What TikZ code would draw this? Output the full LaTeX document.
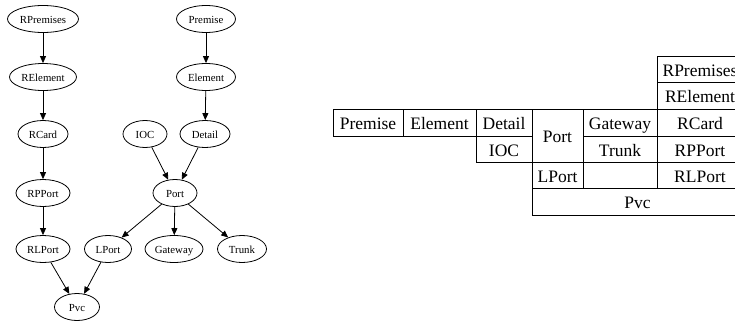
\documentclass[tikz,border=0pt]{standalone}
\usepackage{fontspec}
\setmainfont{Liberation Serif}
\usetikzlibrary{shapes.geometric,arrows.meta}
\begin{document}
\begin{tikzpicture}[x=1pt,y=-1pt,
  gnode/.style={draw,ellipse,line width=0.8pt,inner sep=0pt,minimum height=27pt,
    text height=8pt,text depth=0pt,font=\fontsize{10.8}{12}\selectfont},
  garrow/.style={draw,line width=0.8pt,-{Triangle[length=7pt,width=6pt]}},
  cell/.style={draw,rectangle,line width=0.9pt,inner sep=0pt,
    text height=14pt,text depth=0pt,font=\fontsize{17.5}{20}\selectfont}]
\useasboundingbox (0,0) rectangle (735,324);
\clip (0,0) rectangle (735,324);
% graph
\node[gnode,minimum width=71pt] (RPremises) at (43,19) {RPremises};
\node[gnode,minimum width=67pt] (RElement) at (43,77) {RElement};
\node[gnode,minimum width=50pt] (RCard) at (43,134) {RCard};
\node[gnode,minimum width=54pt] (RPPort) at (43,193) {RPPort};
\node[gnode,minimum width=54pt] (RLPort) at (43,249) {RLPort};
\node[gnode,minimum width=45pt] (Pvc) at (77,307) {Pvc};
\node[gnode,minimum width=59pt] (Premise) at (206,19) {Premise};
\node[gnode,minimum width=59pt] (Element) at (206,77) {Element};
\node[gnode,minimum width=50pt] (Detail) at (205,134) {Detail};
\node[gnode,minimum width=44pt] (IOC) at (145,134) {IOC};
\node[gnode,minimum width=44pt] (Port) at (175,193) {Port};
\node[gnode,minimum width=47pt] (LPort) at (108,249) {LPort};
\node[gnode,minimum width=58pt] (Gateway) at (174,249) {Gateway};
\node[gnode,minimum width=49pt] (Trunk) at (242,249) {Trunk};
\draw[garrow] (RPremises) -- (RElement);
\draw[garrow] (RElement) -- (RCard);
\draw[garrow] (RCard) -- (RPPort);
\draw[garrow] (RPPort) -- (RLPort);
\draw[garrow] (RLPort) -- (Pvc);
\draw[garrow] (LPort) -- (Pvc);
\draw[garrow] (Premise) -- (Element);
\draw[garrow] (Element) -- (Detail);
\draw[garrow] (IOC) -- (Port);
\draw[garrow] (Detail) -- (Port);
\draw[garrow] (Port) -- (LPort);
\draw[garrow] (Port) -- (Gateway);
\draw[garrow] (Port) -- (Trunk);
% table
\node[cell,minimum width=70pt,minimum height=27pt] (tPremise) at (368,122.5) {Premise};
\node[cell,minimum width=73pt,minimum height=27pt] (tElement) at (439.5,122.5) {Element};
\node[cell,minimum width=56pt,minimum height=27pt] (tDetail) at (504,122.5) {Detail};
\node[cell,minimum width=56pt,minimum height=26pt] (tIOC) at (504,149) {IOC};
\node[cell,minimum width=51pt,minimum height=53pt] (tPort) at (557.5,135.5) {Port};
\node[cell,minimum width=74pt,minimum height=27pt] (tGateway) at (620,122.5) {Gateway};
\node[cell,minimum width=74pt,minimum height=26pt] (tTrunk) at (620,149) {Trunk};
\node[cell,minimum width=51pt,minimum height=26pt] (tLPort) at (557.5,175) {LPort};
\node[cell,minimum width=74pt,minimum height=26pt] (tEmpty) at (620,175) {};
\node[cell,minimum width=86pt,minimum height=26pt] (tRPremises) at (700,69) {RPremises};
\node[cell,minimum width=86pt,minimum height=27pt] (tRElement) at (700,95.5) {RElement};
\node[cell,minimum width=86pt,minimum height=27pt] (tRCard) at (700,122.5) {RCard};
\node[cell,minimum width=86pt,minimum height=26pt] (tRPPort) at (700,149) {RPPort};
\node[cell,minimum width=86pt,minimum height=26pt] (tRLPort) at (700,175) {RLPort};
\node[cell,minimum width=211pt,minimum height=27pt] (tPvc) at (637.5,201.5) {Pvc};
\end{tikzpicture}
\end{document}
